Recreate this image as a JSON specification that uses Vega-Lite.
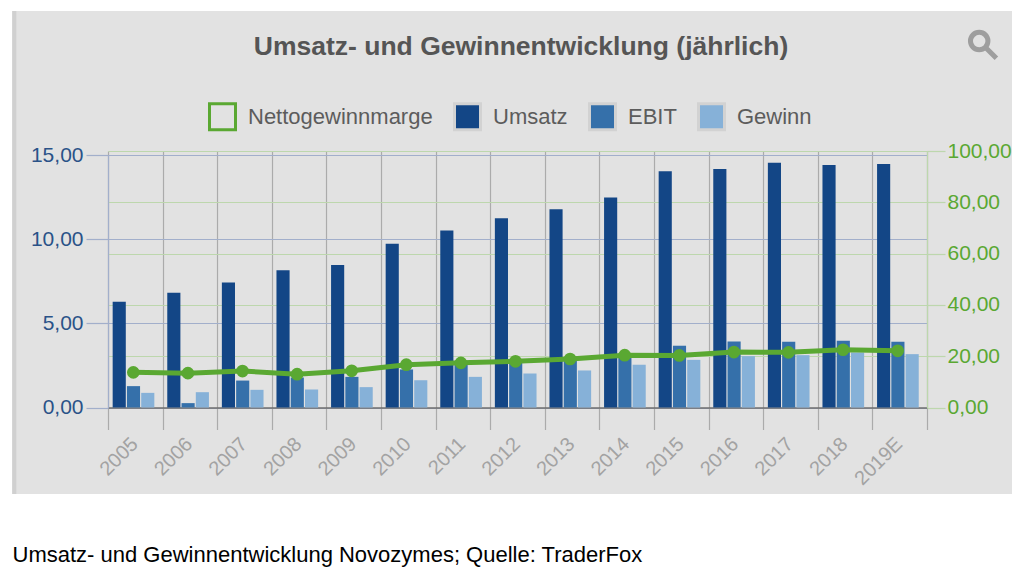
{"$schema":"https://vega.github.io/schema/vega-lite/v6.json","width":1000,"height":483,"autosize":"none","padding":{"left":12,"top":11,"right":12,"bottom":78},"background":"#ffffff","view":{"fill":"#e2e2e2","stroke":null},
"config":{"font":"Liberation Sans"},
"title":{"text":"Umsatz- und Gewinnentwicklung (jährlich)","anchor":"middle","frame":"group","offset":-51,"fontSize":26.5,"fontWeight":"bold","color":"#555555","font":"Liberation Sans","dx":9},
"datasets":{"bars":[
{"Jahr":"2005","Serie":"Umsatz","Wert":6.28},{"Jahr":"2005","Serie":"EBIT","Wert":1.27},{"Jahr":"2005","Serie":"Gewinn","Wert":0.87},
{"Jahr":"2006","Serie":"Umsatz","Wert":6.82},{"Jahr":"2006","Serie":"EBIT","Wert":0.26},{"Jahr":"2006","Serie":"Gewinn","Wert":0.91},
{"Jahr":"2007","Serie":"Umsatz","Wert":7.43},{"Jahr":"2007","Serie":"EBIT","Wert":1.6},{"Jahr":"2007","Serie":"Gewinn","Wert":1.05},
{"Jahr":"2008","Serie":"Umsatz","Wert":8.16},{"Jahr":"2008","Serie":"EBIT","Wert":1.78},{"Jahr":"2008","Serie":"Gewinn","Wert":1.07},
{"Jahr":"2009","Serie":"Umsatz","Wert":8.46},{"Jahr":"2009","Serie":"EBIT","Wert":1.82},{"Jahr":"2009","Serie":"Gewinn","Wert":1.21},
{"Jahr":"2010","Serie":"Umsatz","Wert":9.73},{"Jahr":"2010","Serie":"EBIT","Wert":2.26},{"Jahr":"2010","Serie":"Gewinn","Wert":1.62},
{"Jahr":"2011","Serie":"Umsatz","Wert":10.52},{"Jahr":"2011","Serie":"EBIT","Wert":2.58},{"Jahr":"2011","Serie":"Gewinn","Wert":1.82},
{"Jahr":"2012","Serie":"Umsatz","Wert":11.25},{"Jahr":"2012","Serie":"EBIT","Wert":2.75},{"Jahr":"2012","Serie":"Gewinn","Wert":2.02},
{"Jahr":"2013","Serie":"Umsatz","Wert":11.77},{"Jahr":"2013","Serie":"EBIT","Wert":2.9},{"Jahr":"2013","Serie":"Gewinn","Wert":2.2},
{"Jahr":"2014","Serie":"Umsatz","Wert":12.48},{"Jahr":"2014","Serie":"EBIT","Wert":3.2},{"Jahr":"2014","Serie":"Gewinn","Wert":2.54},
{"Jahr":"2015","Serie":"Umsatz","Wert":14.03},{"Jahr":"2015","Serie":"EBIT","Wert":3.67},{"Jahr":"2015","Serie":"Gewinn","Wert":2.83},
{"Jahr":"2016","Serie":"Umsatz","Wert":14.17},{"Jahr":"2016","Serie":"EBIT","Wert":3.92},{"Jahr":"2016","Serie":"Gewinn","Wert":3.05},
{"Jahr":"2017","Serie":"Umsatz","Wert":14.54},{"Jahr":"2017","Serie":"EBIT","Wert":3.9},{"Jahr":"2017","Serie":"Gewinn","Wert":3.11},
{"Jahr":"2018","Serie":"Umsatz","Wert":14.4},{"Jahr":"2018","Serie":"EBIT","Wert":3.96},{"Jahr":"2018","Serie":"Gewinn","Wert":3.27},
{"Jahr":"2019E","Serie":"Umsatz","Wert":14.46},{"Jahr":"2019E","Serie":"EBIT","Wert":3.9},{"Jahr":"2019E","Serie":"Gewinn","Wert":3.17}],
"marge":[{"Jahr":"2005","Marge":13.7},{"Jahr":"2006","Marge":13.4},{"Jahr":"2007","Marge":14.2},{"Jahr":"2008","Marge":13.0},{"Jahr":"2009","Marge":14.3},{"Jahr":"2010","Marge":16.7},{"Jahr":"2011","Marge":17.4},{"Jahr":"2012","Marge":18.0},{"Jahr":"2013","Marge":18.9},{"Jahr":"2014","Marge":20.4},{"Jahr":"2015","Marge":20.3},{"Jahr":"2016","Marge":21.6},{"Jahr":"2017","Marge":21.5},{"Jahr":"2018","Marge":22.5},{"Jahr":"2019E","Marge":22.1}]},
"layer":[
{"data":{"name":"marge"},"mark":{"type":"point","opacity":0},
"encoding":{"x":{"field":"Jahr","type":"nominal","sort":null,"axis":{"orient":"top","title":null,"tickBand":"extent","grid":true,"gridColor":"#ababab","gridWidth":1.2,"ticks":false,"labels":false,"domain":false}},
"y":{"field":"Marge","type":"quantitative","title":null,"scale":{"domain":[0,100],"range":[396.5,140],"nice":false},"axis":{"orient":"left","title":null,"values":[0,20,40,60,80,100],"grid":true,"gridColor":"#bdd7ad","gridWidth":1.2,"ticks":false,"labels":false,"domain":false}}}},
{"data":{"name":"bars"},"mark":{"type":"point","opacity":0},
"encoding":{"x":{"field":"Jahr","type":"nominal","sort":null,"axis":null},
"y":{"field":"Wert","type":"quantitative","title":null,"scale":{"domain":[0,15],"range":[396.5,144],"nice":false},"axis":{"orient":"left","title":null,"values":[0,5,10,15],"grid":true,"gridColor":"#a2afcb","gridWidth":1.2,"ticks":false,"labels":false,"domain":false}}}},
{"data":{"name":"bars"},"mark":{"type":"bar"},
"encoding":{
"x":{"field":"Jahr","type":"nominal","sort":null,"title":"Umsatz- und Gewinnentwicklung Novozymes; Quelle: TraderFox","scale":{"range":[96,915],"paddingInner":0,"paddingOuter":0},
"axis":{"orient":"bottom","offset":-86.5,"tickBand":"extent","grid":false,"tickColor":"#ababab","tickSize":22,"tickWidth":1.2,"domainColor":"#6e6e6e","domainWidth":1.5,"labelAngle":-45,"labelAlign":"right","labelBaseline":"top","labelFont":"Liberation Sans","labelFontSize":20,"labelColor":"#a3a3a3","labelPadding":4,"labelOffset":-8,"labelOverlap":false,"titleFont":"Liberation Sans","titleFontSize":22,"titleFontWeight":"normal","titleColor":"#000000","titleX":0,"titleY":147,"titleAnchor":"start","titleAlign":"left","titleBaseline":"middle"}},
"xOffset":{"field":"Serie","type":"nominal","sort":["Umsatz","EBIT","Gewinn"],"scale":{"domain":["Umsatz","EBIT","Gewinn"],"range":[4.1,46.9],"paddingInner":0.08,"paddingOuter":0.04}},
"y":{"field":"Wert","type":"quantitative","title":null,"scale":{"domain":[0,15],"range":[396.5,144],"nice":false,"zero":true},
"axis":{"orient":"left","offset":-96,"values":[0,5,10,15],"labelExpr":"replace(format(datum.value,'.2f'),'.',',')","grid":false,"tickColor":"#a2afcb","tickSize":22,"tickWidth":1.2,"domainColor":"#a2afcb","domainWidth":1.2,"labelFont":"Liberation Sans","labelFontSize":21,"labelColor":"#2a5288","labelPadding":3}},
"color":{"field":"Serie","type":"nominal","title":null,"scale":{"domain":["Nettogewinnmarge","Umsatz","EBIT","Gewinn"],"range":["#e2e2e2","#134686","#3570aa","#86b1d8"]},
"legend":{"orient":"none","legendX":196,"legendY":91,"direction":"horizontal","columns":4,"symbolType":"square","symbolSize":676,"labelFont":"Liberation Sans","labelFontSize":22,"labelColor":"#5c5c5c","labelOffset":11,"labelLimit":400,"columnPadding":15,"encoding":{"symbols":{"stroke":{"condition":{"test":"datum.label==='Nettogewinnmarge'","value":"#5aa832"},"value":"#d2d2d2"},"strokeWidth":{"value":3},"opacity":{"value":1}}}}}}},
{"data":{"name":"marge"},"mark":{"type":"line","color":"#5aa832","strokeWidth":5,"xOffset":-2},
"encoding":{"x":{"field":"Jahr","type":"nominal","sort":null,"axis":null},
"y":{"field":"Marge","type":"quantitative","title":null,"scale":{"domain":[0,100],"range":[396.5,140],"nice":false},
"axis":{"orient":"right","offset":-85,"values":[0,20,40,60,80,100],"labelExpr":"replace(format(datum.value,'.2f'),'.',',')","grid":false,"tickColor":"#bdd7ad","tickSize":18,"tickWidth":1.2,"domainColor":"#bdd7ad","domainWidth":1.2,"labelFont":"Liberation Sans","labelFontSize":21,"labelColor":"#5aa832","labelPadding":2}}}},
{"data":{"name":"marge"},"mark":{"type":"point","filled":true,"opacity":1,"color":"#5aa832","size":160,"xOffset":-2},
"encoding":{"x":{"field":"Jahr","type":"nominal","sort":null,"axis":null},
"y":{"field":"Marge","type":"quantitative","title":null,"scale":{"domain":[0,100],"range":[396.5,140],"nice":false},"axis":null}}},
{"mark":{"type":"point","filled":false,"opacity":1,"stroke":"#9e9e9e","strokeWidth":5,"size":2800,"xOffset":84,"shape":"M-0.5,-0.15 A0.33,0.33 0 1 1 0.16,-0.15 A0.33,0.33 0 1 1 -0.5,-0.15 Z M0.08,0.1 L0.48,0.5"},
"data":{"values":[{"Jahr":"2019E","Pos":1}]},
"encoding":{"x":{"field":"Jahr","type":"nominal","sort":null,"axis":null},"y":{"field":"Pos","type":"quantitative","title":null,"scale":{"domain":[0,1],"range":[450,34]},"axis":null}}},
{"mark":{"type":"rule","stroke":"#d0d0d0","strokeWidth":4,"xOffset":-121},
"data":{"values":[{"Jahr":"2005"}]},
"encoding":{"x":{"field":"Jahr","type":"nominal","sort":null,"axis":null}}}
],
"resolve":{"scale":{"y":"independent"},"axis":{"y":"independent","x":"independent"}}}
